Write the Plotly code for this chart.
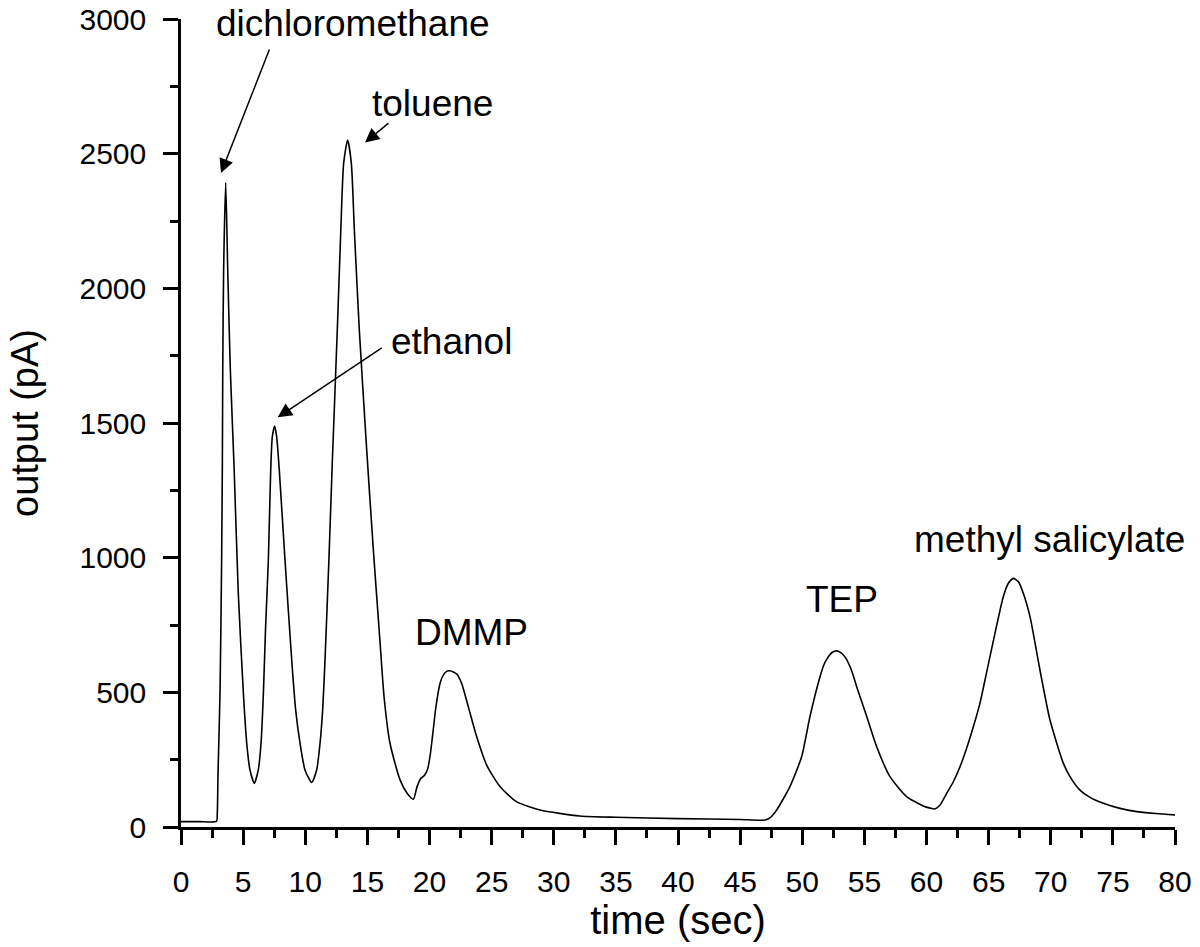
import plotly.graph_objects as go

# chromatogram trace
time_s = [0, 1.5, 2.85, 2.92, 2.98, 3.14, 3.27, 3.33, 3.36, 3.43, 3.6, 3.76, 3.97, 4.27, 4.61, 5.02,
          5.29, 5.55, 5.9, 6.22, 6.44, 6.63, 6.81, 7.03, 7.22, 7.35, 7.54, 7.7, 7.91, 8.37, 8.91,
          9.23, 9.58, 9.98, 10.52, 10.92, 11.19, 11.4, 11.59, 11.91, 12.17, 12.58, 12.85, 13.09,
          13.41, 13.71, 13.95, 14.35, 14.96, 15.48, 16.0, 16.35, 16.82, 17.63, 18.2, 18.7, 19.0,
          19.3, 19.6, 19.85, 20.05, 20.25, 20.5, 20.85, 21.11, 21.38, 21.65, 22.19, 22.59, 23.12,
          23.8, 24.6, 25.67, 27.0, 28.9, 32.1, 35, 40, 45, 47.0, 47.5, 47.94, 49.01, 49.95, 50.62,
          51.43, 51.77, 52.04, 52.4, 52.77, 53.18, 53.49, 53.85, 54.11, 54.38, 55.19, 55.99, 57.06,
          58.4, 59.74, 60.3, 60.68, 61.09, 61.62, 62.16, 62.7, 63.23, 63.77, 64.3, 64.71, 65.51,
          66.18, 66.59, 66.99, 67.39, 67.79, 68.33, 69.13, 69.94, 71.01, 71.55, 72.35, 73.16,
          74.23, 75.5, 76.92, 78.5, 80]
output_pA = [20, 20, 21, 50, 200, 497, 991, 1363, 1697, 2068, 2393, 2068, 1697, 1340, 869, 497,
             311, 212, 162, 212, 311, 496, 744, 991, 1326, 1449, 1489, 1449, 1326, 991, 620,
             434, 311, 212, 165, 212, 311, 434, 620, 1000, 1345, 1846, 2200, 2464,
             2551, 2464, 2218, 1846, 1390, 1029, 698, 480, 311, 175, 125, 103, 150,
             180, 192, 215, 265, 340, 440, 534, 564, 578, 580, 568, 533, 447,
             335, 230, 150, 94, 63, 41, 36, 31, 28, 26, 38, 63, 150, 261, 410,
             558, 605, 628, 648, 654, 645, 628, 595, 562, 521, 410, 298, 187,
             113, 78, 70, 67, 82, 125, 168, 224, 292, 372, 459, 546, 719,
             855, 905, 923, 911, 868, 781, 583, 397, 237, 187, 137, 110,
             88, 70, 57, 50, 45]

# peak labels: text, x, y
label_text = ["dichloromethane", "toluene", "ethanol", "DMMP", "TEP", "methyl salicylate"]
label_x = [13.84, 20.28, 21.81, 23.4, 53.18, 69.9]
label_y = [2985, 2688, 1801, 724, 845, 1066]

# arrows: tail (x, y) -> head (x, y)
arrow_tail_x = [7.16, 16.82, 16.28]
arrow_tail_y = [2892, 2618, 1783]
arrow_head_x = [3.22, 14.81, 7.78]
arrow_head_y = [2428, 2541, 1521]

x_ticks = list(range(0, 81, 5))
y_ticks = list(range(0, 3001, 500))

FONT = "Arial, Liberation Sans, sans-serif"

fig = go.Figure()
fig.add_trace(go.Scatter(x=time_s, y=output_pA, mode="lines",
                         line=dict(color="black", width=1.6, shape="spline", smoothing=0.6),
                         showlegend=False, hoverinfo="skip"))

annotations = []
for t, x, y in zip(label_text, label_x, label_y):
    annotations.append(dict(x=x, y=y, xref="x", yref="y", text=t, showarrow=False,
                            font=dict(family=FONT, size=37, color="black"),
                            xanchor="center", yanchor="middle"))
for tx, ty, hx, hy in zip(arrow_tail_x, arrow_tail_y, arrow_head_x, arrow_head_y):
    annotations.append(dict(x=hx, y=hy, xref="x", yref="y", ax=tx, ay=ty, axref="x", ayref="y",
                            text="", showarrow=True, arrowhead=2, arrowsize=1.9, arrowwidth=1.5,
                            arrowcolor="black"))

fig.update_layout(
    width=1200, height=947,
    margin=dict(l=181, r=25, t=19, b=120),
    paper_bgcolor="white", plot_bgcolor="white",
    font=dict(family=FONT, size=30, color="black"),
    annotations=annotations,
    xaxis=dict(range=[0, 80], tickvals=x_ticks, ticktext=[str(v) for v in x_ticks],
               automargin=False, ticklabeloverflow="allow",
               showline=True, linecolor="black", linewidth=2.5, mirror=False,
               ticks="outside", ticklen=15, tickwidth=2.5, tickcolor="black",
               ticklabelstandoff=11,
               minor=dict(tickvals=[v + 2.5 for v in x_ticks[:-1]], ticks="outside", ticklen=8,
                          tickwidth=2.5, tickcolor="black", showgrid=False),
               showgrid=False, zeroline=False,
               tickfont=dict(family=FONT, size=30, color="black"),
               title=dict(text="time (sec)", font=dict(family=FONT, size=40, color="black"), standoff=0)),
    yaxis=dict(range=[0, 3000], tickvals=y_ticks, ticktext=[str(v) for v in y_ticks],
               automargin=False, ticklabeloverflow="allow",
               showline=True, linecolor="black", linewidth=2.5, mirror=False,
               ticks="outside", ticklen=15, tickwidth=2.5, tickcolor="black",
               ticklabelstandoff=11,
               minor=dict(tickvals=[v + 250 for v in y_ticks[:-1]], ticks="outside", ticklen=8,
                          tickwidth=2.5, tickcolor="black", showgrid=False),
               showgrid=False, zeroline=False,
               tickfont=dict(family=FONT, size=30, color="black"),
               title=dict(text="output (pA)", font=dict(family=FONT, size=38, color="black"), standoff=30)),
)

# remove the default page margin so the figure sits at the window's top-left corner
fig.write_html("out.html", config={"displayModeBar": False},
               post_script="document.body.style.margin='0px';")
